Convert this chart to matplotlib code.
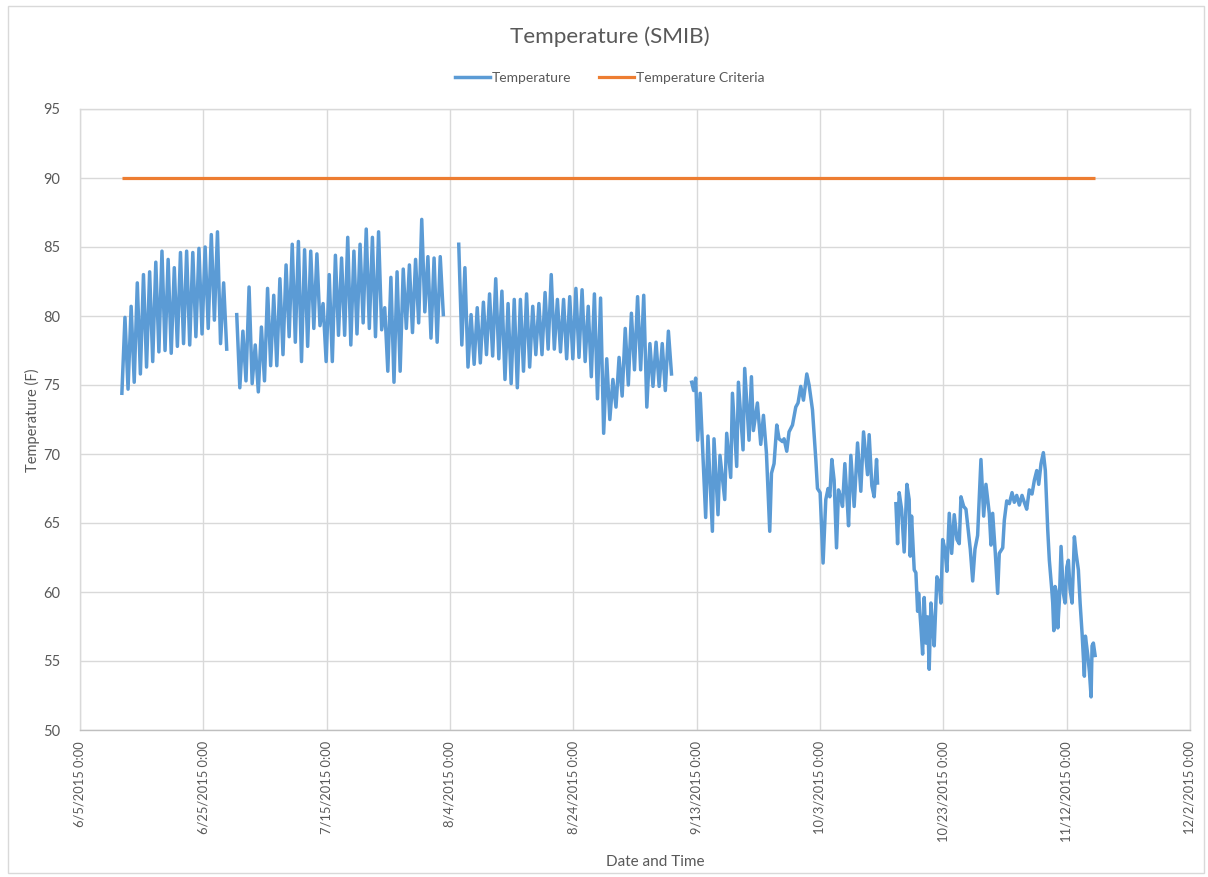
import numpy as np
import pandas as pd
import matplotlib
matplotlib.use("Agg")
import matplotlib.pyplot as plt
from matplotlib.lines import Line2D
from matplotlib.patches import Rectangle

# ---------------------------------------------------------------------------
# Data
# ---------------------------------------------------------------------------
# Summer logging: daily highs / lows at 12-hour spacing
seg_a_start = "2015-06-11 19:00"
seg_a_temps = [74.4, 79.9, 74.7, 80.7, 75.2, 82.4, 75.8, 83.0, 76.3, 83.2, 76.7,
               83.9, 77.4, 84.7, 77.5, 84.1, 77.3, 83.5, 77.8, 84.6, 78.0, 84.7,
               77.9, 84.6, 78.5, 84.9, 78.7, 85.0, 79.1, 85.9, 79.7, 86.1, 78.0,
               82.4, 77.6]

seg_b_start = "2015-06-30 10:00"
seg_b_temps = [80.1, 74.8, 78.9, 75.3, 82.1, 75.1, 77.9, 74.5, 79.2, 75.3, 82.0,
               76.4, 81.5, 76.4, 82.7, 77.2, 83.7, 78.5, 85.2, 78.1, 85.4, 76.7,
               84.8, 77.8, 84.7, 79.1, 84.5, 79.3, 80.9, 76.7, 83.0, 76.7, 84.4,
               78.6, 84.2, 78.6, 85.7, 77.9, 84.7, 78.7, 85.2, 79.5, 86.3, 79.1,
               85.7, 78.5, 86.1, 79.0, 80.6, 76.0, 82.8, 75.2, 83.2, 76.0, 83.4,
               79.1, 83.7, 78.8, 84.1, 79.5, 87.0, 80.3, 84.3, 78.4, 84.2, 78.1,
               84.3, 80.1]

seg_c_start = "2015-08-05 10:00"
seg_c_temps = [85.2, 77.9, 83.5, 76.3, 80.1, 76.5, 80.6, 76.6, 81.0, 77.2, 81.6,
               77.1, 82.7, 76.9, 81.8, 75.4, 80.9, 75.1, 81.2, 74.8, 81.2, 76.0,
               81.6, 76.3, 80.7, 77.2, 80.9, 77.2, 81.7, 77.6, 83.0, 77.6, 81.2,
               77.4, 81.2, 76.9, 81.4, 76.9, 82.0, 77.0, 81.9, 76.7, 80.7, 75.6,
               81.6, 74.0, 81.3, 71.5, 76.9, 72.5, 75.4, 73.4, 77.0, 74.2, 79.1,
               75.0, 80.2, 76.1, 81.4, 76.1, 81.5, 73.4, 78.0, 74.9, 78.1, 74.9,
               78.0, 74.6, 78.9, 75.8]

# Autumn logging: irregular readings, time in days after 6/5/2015 0:00
seg_d_days = [99.19, 99.51, 99.84, 100.16, 100.57, 101.46, 101.83, 102.55, 102.81,
              103.46, 103.78, 104.55, 104.87, 105.52, 105.80, 106.49, 106.77,
              107.52, 107.79, 108.49, 108.88, 109.20, 109.85, 110.39, 110.83,
              111.31, 111.85, 112.13, 112.55, 112.99, 113.36, 113.91, 114.17,
              114.61, 114.98, 115.54, 116.07, 116.44, 116.88, 117.32, 117.86,
              118.23, 118.78, 119.32, 119.59, 120.02, 120.50, 120.94, 121.31,
              121.59, 121.92, 122.29, 122.68, 123.00, 123.38, 123.65, 124.03,
              124.46, 124.63, 125.00, 125.54, 126.09, 126.62, 127.06, 127.71,
              127.97, 128.41, 128.78, 129.17, 129.33]
seg_d_temps = [75.2, 74.6, 75.5, 71.0, 74.4, 65.4, 71.3, 64.4, 71.1, 65.6, 69.9,
               66.7, 71.5, 68.3, 74.4, 69.1, 75.2, 70.3, 76.2, 71.0, 75.6, 71.7,
               73.7, 70.7, 72.8, 70.1, 64.4, 68.6, 69.3, 72.1, 71.1, 70.9, 71.1,
               70.2, 71.6, 72.1, 73.4, 73.7, 74.9, 73.9, 75.8, 75.0, 73.2, 69.6,
               67.5, 67.2, 62.1, 66.7, 67.5, 66.9, 69.6, 68.1, 63.2, 67.4, 66.8,
               66.2, 69.3, 66.2, 64.8, 69.9, 66.2, 70.8, 67.3, 71.6, 68.5, 71.4,
               67.7, 66.9, 69.6, 67.9]

seg_e_days = [132.31, 132.58, 132.84, 133.23, 133.65, 134.09, 134.46, 134.63,
              134.85, 135.28, 135.55, 135.83, 135.99, 136.36, 136.64, 136.90,
              137.18, 137.45, 137.71, 137.99, 138.26, 138.52, 138.96, 139.33,
              139.61, 139.89, 140.26, 140.58, 140.96, 141.35, 141.77, 142.21,
              142.58, 142.86, 143.30, 143.67, 144.04, 144.37, 144.76, 145.13,
              145.56, 146.10, 146.54, 146.91, 147.45, 147.73, 148.00, 148.43,
              148.81, 149.07, 149.63, 149.89, 150.28, 150.70, 151.14, 151.51,
              151.90, 152.32, 152.76, 153.13, 153.52, 153.94, 154.38, 154.76,
              155.15, 155.47, 155.84, 156.22, 156.54, 156.93, 157.19, 157.58,
              157.74, 157.91, 158.12, 158.39, 158.56, 158.82, 159.09, 159.46,
              159.74, 160.02, 160.28, 160.55, 160.88, 161.25, 161.53, 161.90,
              162.18, 162.50, 162.87, 163.04, 163.43, 163.69, 163.96, 164.12,
              164.33, 164.61]
seg_e_temps = [66.4, 63.5, 67.2, 66.0, 62.9, 67.8, 66.7, 62.6, 65.5, 61.6,
               61.4, 58.6, 59.9, 57.5, 55.5, 59.6, 56.3, 58.2, 54.4, 59.2,
               57.5, 56.1, 61.1, 60.7, 59.2, 63.8, 63.1, 61.5, 65.7, 62.8,
               65.6, 63.8, 63.5, 66.9, 66.2, 66.0, 64.5, 63.1, 60.8, 63.1,
               64.1, 69.6, 65.5, 67.8, 65.7, 63.4, 65.7, 62.8, 59.9, 62.8,
               63.2, 65.2, 66.6, 66.4, 67.2, 66.5, 67.0, 66.3, 67.0, 66.5,
               66.0, 67.4, 67.1, 68.1, 68.8, 67.8, 69.3, 70.1, 68.8, 64.5,
               62.3, 60.2, 59.2, 57.2, 60.4, 59.9, 57.4, 59.4, 63.3, 59.9,
               59.2, 61.8, 62.3, 60.2, 59.2, 64.0, 62.8, 61.6, 59.2, 57.0,
               53.9, 56.8, 55.4, 54.2, 52.4, 56.1, 56.3, 55.4]

criteria_temp = 90

x_tick_dates = ["2015-06-05", "2015-06-25", "2015-07-15", "2015-08-04",
                "2015-08-24", "2015-09-13", "2015-10-03", "2015-10-23",
                "2015-11-12", "2015-12-02"]
y_ticks = [50, 55, 60, 65, 70, 75, 80, 85, 90, 95]

# ---------------------------------------------------------------------------
# Assemble the logged series (NaN rows break the line at logger gaps)
# ---------------------------------------------------------------------------
origin = pd.Timestamp("2015-06-05 00:00")


def regular(start, temps):
    idx = pd.date_range(start, periods=len(temps), freq="12h")
    return pd.Series(temps, index=idx, dtype=float)


def irregular(days, temps):
    idx = origin + pd.to_timedelta(days, unit="D")
    return pd.Series(temps, index=idx, dtype=float)


segments = [regular(seg_a_start, seg_a_temps),
            regular(seg_b_start, seg_b_temps),
            regular(seg_c_start, seg_c_temps),
            irregular(seg_d_days, seg_d_temps),
            irregular(seg_e_days, seg_e_temps)]

pieces = []
for seg in segments:
    pieces.append(seg)
    pieces.append(pd.Series([np.nan], index=[seg.index[-1] + pd.Timedelta(hours=1)]))
temperature = pd.concat(pieces[:-1])
criteria = pd.Series(float(criteria_temp), index=temperature.dropna().index)

# ---------------------------------------------------------------------------
# Figure
# ---------------------------------------------------------------------------
plt.rcParams["font.family"] = ["Lato", "DejaVu Sans"]
text_grey = "#595959"
grid_grey = "#D9D9D9"
blue = "#5B9BD5"
orange = "#ED7D31"

W, H = 1208, 877
fig = plt.figure(figsize=(W / 100, H / 100), dpi=100)
ax = fig.add_axes([80 / W, 1 - 730 / H, (1190 - 80) / W, (730 - 109) / H])

ax.plot(criteria.index, criteria.values, color=orange, lw=2.3,
        solid_capstyle="butt", zorder=3)
ax.plot(temperature.index, temperature.values, color=blue, lw=2.5,
        solid_joinstyle="round", zorder=4)

tick_dates = pd.to_datetime(x_tick_dates)
ax.set_xlim(tick_dates[0], tick_dates[-1])
ax.set_xticks(tick_dates)
ax.set_xticklabels([f"{d.month}/{d.day}/{d.year} 0:00" for d in tick_dates],
                   rotation=90, fontsize=9.3, color=text_grey)
ax.set_ylim(y_ticks[0], y_ticks[-1])
ax.set_yticks(y_ticks)
ax.set_yticklabels([str(v) for v in y_ticks], fontsize=10.5, color=text_grey)
ax.tick_params(axis="both", length=0)
ax.tick_params(axis="x", pad=8)
ax.tick_params(axis="y", pad=14)

ax.grid(True, color=grid_grey, lw=1.0)
ax.set_axisbelow(True)
for side in ["left", "right", "top", "bottom"]:
    ax.spines[side].set_color(grid_grey)
    ax.spines[side].set_linewidth(1.0)
ax.spines["bottom"].set_color("#BFBFBF")

fig.text(32 / W, 1 - 420 / H, "Temperature (F)", ha="center", va="center",
         rotation=90, fontsize=10.5, color=text_grey)
fig.text(655 / W, 1 - 862 / H, "Date and Time", ha="center", va="center",
         fontsize=11, color=text_grey)
fig.text(610 / W, 1 - 37 / H, "Temperature (SMIB)", ha="center", va="center",
         fontsize=16.2, color=text_grey)

handles = [Line2D([], [], color=blue, lw=2.5),
           Line2D([], [], color=orange, lw=2.3)]
fig.legend(handles, ["Temperature", "Temperature Criteria"], loc="center",
           bbox_to_anchor=(610 / W, 1 - 78 / H), ncol=2, frameon=False,
           fontsize=10, handlelength=2.5, handletextpad=0.15, columnspacing=2.0,
           labelcolor=text_grey)

fig.patches.append(Rectangle((8 / W, 4 / H), (W - 12) / W, (H - 10) / H,
                             transform=fig.transFigure, fill=False,
                             edgecolor=grid_grey, lw=1.0))

fig.savefig("out.png", dpi=100)
